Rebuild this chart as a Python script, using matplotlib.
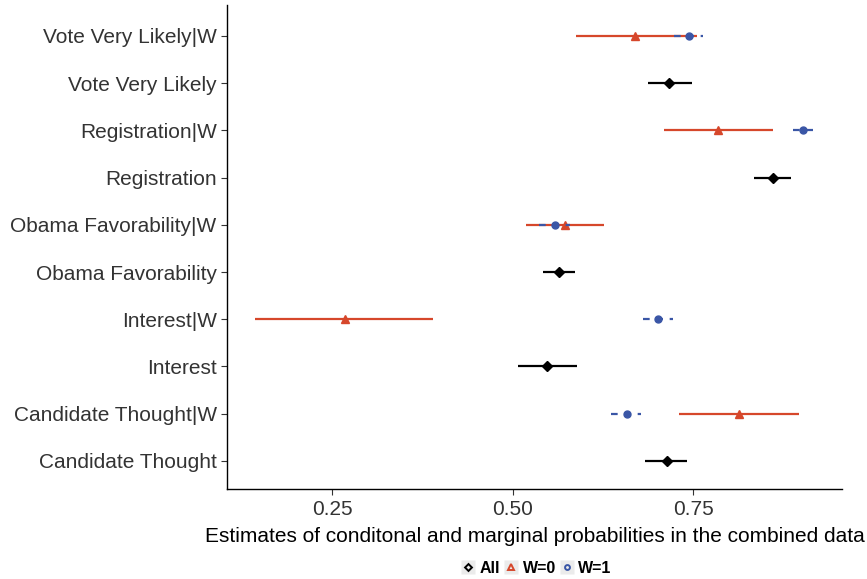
import numpy as np
import matplotlib.pyplot as plt
from matplotlib.lines import Line2D

plt.rcParams['font.family'] = ['Liberation Sans', 'DejaVu Sans']

# rows from bottom to top
labels = ['Candidate Thought', 'Candidate Thought|W', 'Interest', 'Interest|W',
          'Obama Favorability', 'Obama Favorability|W', 'Registration',
          'Registration|W', 'Vote Very Likely', 'Vote Very Likely|W']

# marginal estimates (All) on the plain rows
all_rows = [0, 2, 4, 6, 8]
all_est = [0.713, 0.548, 0.564, 0.860, 0.717]
all_lo = [0.683, 0.507, 0.542, 0.834, 0.688]
all_hi = [0.742, 0.589, 0.586, 0.886, 0.748]

# conditional estimates on the |W rows
w_rows = [1, 3, 5, 7, 9]
w0_est = [0.813, 0.267, 0.572, 0.784, 0.669]
w0_lo = [0.730, 0.143, 0.518, 0.709, 0.588]
w0_hi = [0.896, 0.390, 0.626, 0.860, 0.755]
w1_est = [0.658, 0.701, 0.559, 0.902, 0.744]
w1_lo = [0.636, 0.680, 0.536, 0.888, 0.724]
w1_hi = [0.678, 0.722, 0.579, 0.916, 0.763]

RED = '#D6472B'
BLUE = '#3A56A6'

fig = plt.figure(figsize=(8.67, 5.79), dpi=100)
ax = fig.add_axes([0.262, 0.155, 0.709, 0.836])

def draw(rows, est, lo, hi, color, marker, ls, ms, z):
    for r, e, l, h in zip(rows, est, lo, hi):
        ax.plot([l, h], [r, r], color=color, lw=1.6, ls=ls, zorder=z,
                solid_capstyle='butt', dash_capstyle='butt')
    ax.plot(est, rows, ls='none', marker=marker, ms=ms, color=color, zorder=z + 1)

draw(all_rows, all_est, all_lo, all_hi, 'black', 'D', '-', 5, 2)
draw(w_rows, w0_est, w0_lo, w0_hi, RED, '^', '-', 6, 2)
draw(w_rows, w1_est, w1_lo, w1_hi, BLUE, 'o', (0, (3, 3)), 5, 4)

ax.set_xlim(0.104, 0.956)
ax.set_ylim(-0.6, 9.65)
ax.set_xticks([0.25, 0.50, 0.75])
ax.set_xticklabels(['0.25', '0.50', '0.75'])
ax.set_yticks(range(len(labels)))
ax.set_yticklabels(labels)
ax.tick_params(axis='both', labelsize=15, colors='#333333', length=4, width=0.8)
for s in ['top', 'right']:
    ax.spines[s].set_visible(False)
for s in ['left', 'bottom']:
    ax.spines[s].set_linewidth(1.0)
ax.set_xlabel('Estimates of conditonal and marginal probabilities in the combined data',
              fontsize=15, labelpad=6, color='black')

bg = dict(ls='none', marker='s', ms=10.5, mfc='#EBEBEB', mec='none')
handles = [
    (Line2D([], [], **bg),
     Line2D([], [], ls='none', marker='D', ms=3.5, mfc='none', mec='black', mew=1.4)),
    (Line2D([], [], **bg),
     Line2D([], [], ls='none', marker='^', ms=4.5, mfc='none', mec=RED, mew=1.4)),
    (Line2D([], [], **bg),
     Line2D([], [], ls='none', marker='o', ms=3.5, mfc='none', mec=BLUE, mew=1.4)),
]
leg = fig.legend(handles, ['All', 'W=0', 'W=1'], loc='center', ncol=3,
                 bbox_to_anchor=(0.619, 0.018), frameon=False,
                 handlelength=0.85, handletextpad=0.3, columnspacing=0.25,
                 prop={'weight': 'bold', 'size': 11.5})

fig.savefig('out.png', dpi=100)
